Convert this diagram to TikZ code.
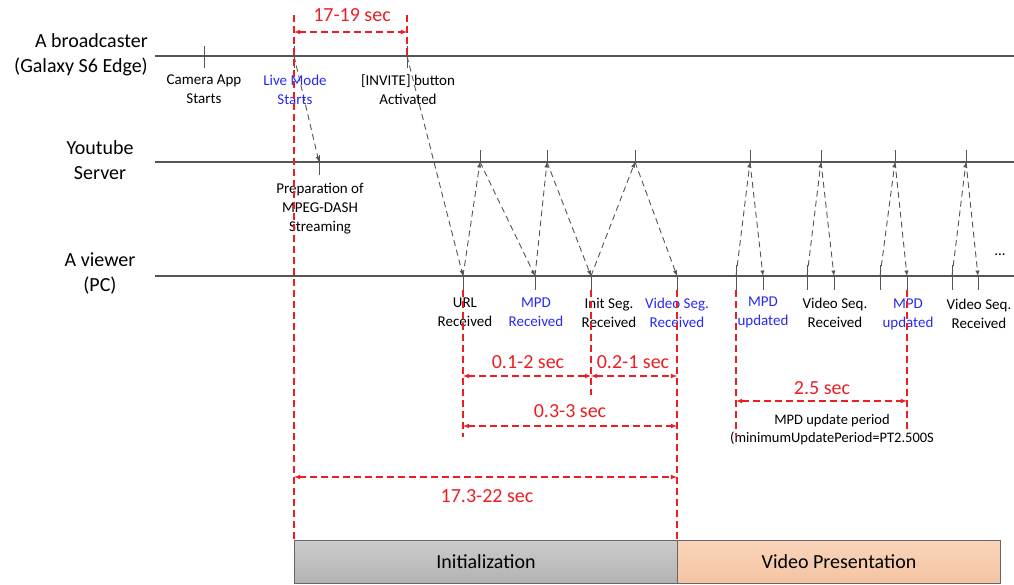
\documentclass[tikz,border=0pt]{standalone}
\usepackage{fontspec}
\setmainfont{Carlito}
\definecolor{lblblue}{RGB}{40,40,245}
\definecolor{durred}{RGB}{235,30,35}
\definecolor{lanegray}{RGB}{85,85,85}
\definecolor{initgraytop}{RGB}{204,204,204}
\definecolor{initgraybot}{RGB}{178,178,178}
\definecolor{prestop}{RGB}{250,212,185}
\definecolor{presbot}{RGB}{243,196,163}
\tikzset{
  lane/.style={draw=lanegray,line width=1.2pt},
  tickmark/.style={draw=lanegray,line width=1pt},
  msg/.style={-latex,draw=lanegray,line width=0.9pt,dash pattern=on 6pt off 4pt},
  guide/.style={draw=durred,line width=1.1pt,dash pattern=on 7pt off 4pt},
  span/.style={latex-latex,draw=durred,line width=1.1pt,dash pattern=on 7pt off 4pt},
  biglbl/.style={inner sep=0pt,font=\fontsize{20}{25}\selectfont},
  smalllbl/.style={inner sep=0pt,align=center,font=\fontsize{15}{19}\selectfont},
  durlbl/.style={inner sep=0pt,text=durred,font=\fontsize{20}{24}\selectfont},
  phase/.style={draw=gray!80!black,line width=1pt,anchor=north west,minimum height=43pt,inner sep=0pt,font=\fontsize{20}{24}\selectfont}
}
\begin{document}
\begin{tikzpicture}[x=1pt,y=-1pt]
  \useasboundingbox (0,0) rectangle (1014,585);
  % time lines
  \draw[lane] (155,56) -- (1014,56);
  \draw[lane] (155,162) -- (1014,162);
  \draw[lane] (155,276) -- (1014,276);
  \node[biglbl,anchor=east,align=right] (bcast) at (148,54.5) {A broadcaster\\(Galaxy S6 Edge)};
  \node[biglbl,align=center] (yt) at (100,160) {Youtube\\Server};
  \node[biglbl,align=center] (viewer) at (100,274) {A viewer\\(PC)};
  % broadcaster events
  \foreach \name/\x in {cam/204,live/294,inv/407}{
    \coordinate (\name) at (\x,56);
    \draw[tickmark] (\x,46) -- (\x,68);
  }
  % server events
  \coordinate (prep) at (319,162);
  \draw[tickmark] (319,155) -- (319,175);
  \foreach \name/\x in {s1/480,s2/547,s3/635,s4/750,s5/821,s6/895,s7/966}{
    \coordinate (\name) at (\x,162);
    \draw[tickmark] (\x,150) -- (\x,162);
  }
  % viewer events
  \foreach \name/\x in {url/463,mpd/535,init/591,vseg/677,rcv1/763,rcv2/834,rcv3/907,rcv4/978}{
    \coordinate (\name) at (\x,276);
    \draw[tickmark] (\x,276) -- (\x,290);
  }
  \foreach \name/\x in {req1/736,req2/807,req3/880,req4/952}{
    \coordinate (\name) at (\x,276);
    \draw[tickmark] (\x,265) -- (\x,290);
  }
  % messages
  \draw[msg] (live) -- (prep);
  \draw[msg] (inv) -- (url);
  \foreach \a/\b in {url/s1,s1/mpd,mpd/s2,s2/init,init/s3,s3/vseg,req1/s4,s4/rcv1,req2/s5,s5/rcv2,req3/s6,s6/rcv3,req4/s7,s7/rcv4}
    \draw[msg] (\a) -- (\b);
  % event labels
  \node[smalllbl] (camlbl) at (204,89.5) {Camera App\\Starts};
  \node[smalllbl,text=lblblue] (livelbl) at (295,89.5) {Live Mode\\Starts};
  \node[smalllbl] (invlbl) at (408,89.5) {[INVITE] button\\Activated};
  \node[smalllbl] (preplbl) at (320,209) {Preparation of\\MPEG-DASH\\Streaming};
  \node[smalllbl] (urllbl) at (465,312.5) {URL\\Received};
  \node[smalllbl,text=lblblue] (mpdlbl) at (536,312.5) {MPD\\Received};
  \node[smalllbl] (initlbl) at (609,312.5) {Init Seg.\\Received};
  \node[smalllbl,text=lblblue] (vseglbl) at (677,312.5) {Video Seg.\\Received};
  \node[smalllbl,text=lblblue] (upd1lbl) at (763,312.5) {MPD\\updated};
  \node[smalllbl] (rcv2lbl) at (835,312.5) {Video Seq.\\Received};
  \node[smalllbl,text=lblblue] (upd2lbl) at (908,314) {MPD\\updated};
  \node[smalllbl] (rcv4lbl) at (979,314) {Video Seq.\\Received};
  \node[smalllbl] (more) at (1000,255) {...};
  % red guides
  \draw[guide] (294,15) -- (294,540);
  \draw[guide] (407,15) -- (407,56);
  \draw[guide] (463,290) -- (463,437);
  \draw[guide] (591,290) -- (591,395);
  \draw[guide] (677,290) -- (677,540);
  \draw[guide] (736,290) -- (736,435);
  \draw[guide] (907,290) -- (907,432);
  % durations
  \coordinate (d1a) at (294,32); \coordinate (d1b) at (407,32);
  \coordinate (d2a) at (463,376); \coordinate (d2b) at (591,376); \coordinate (d2c) at (677,376);
  \coordinate (d3a) at (463,426); \coordinate (d3b) at (677,426);
  \coordinate (d4a) at (736,401); \coordinate (d4b) at (907,401);
  \coordinate (d5a) at (294,477); \coordinate (d5b) at (677,477);
  \draw[span] (d1a) -- (d1b);
  \draw[span] (d2a) -- (d2b);
  \draw[span] (d2b) -- (d2c);
  \draw[span] (d3a) -- (d3b);
  \draw[span] (d4a) -- (d4b);
  \draw[span] (d5a) -- (d5b);
  \node[durlbl] (t1) at (352,15) {17-19 sec};
  \node[durlbl] (t2) at (528,362) {0.1-2 sec};
  \node[durlbl] (t3) at (633,362) {0.2-1 sec};
  \node[durlbl] (t4) at (570,411) {0.3-3 sec};
  \node[durlbl] (t5) at (822,388) {2.5 sec};
  \node[durlbl] (t6) at (487,496) {17.3-22 sec};
  \node[inner sep=0pt,align=center,font=\fontsize{14.5}{18}\selectfont] (period) at (832,430) {MPD update period\\(minimumUpdatePeriod=PT2.500S};
  % phases
  \node[phase,top color=initgraytop,bottom color=initgraybot,minimum width=383pt] (initbar) at (294,540) {Initialization};
  \node[phase,top color=prestop,bottom color=presbot,minimum width=323pt] (presbar) at (677,540) {Video Presentation};
\end{tikzpicture}
\end{document}
